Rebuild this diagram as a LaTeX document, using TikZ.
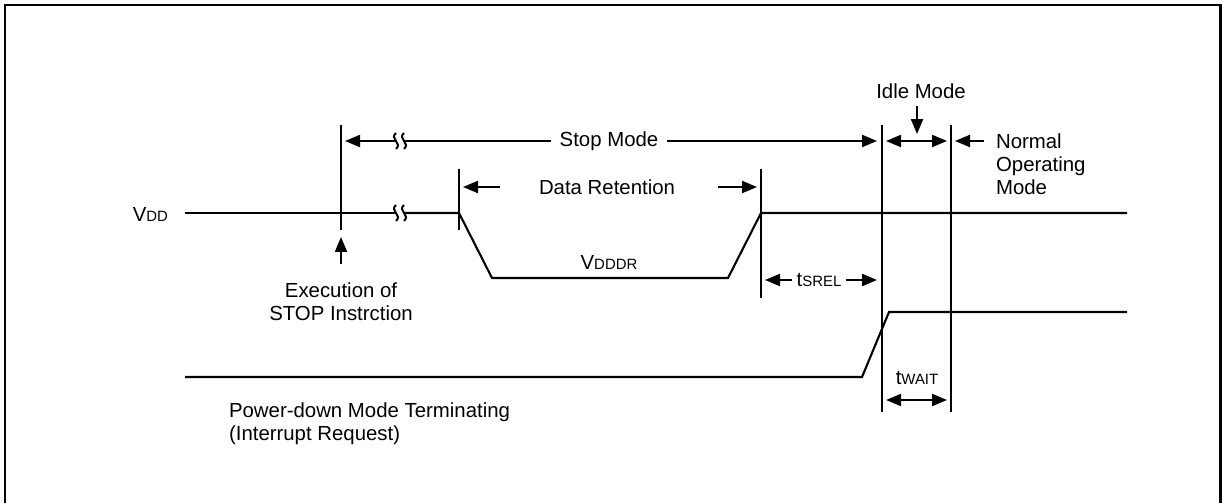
\documentclass[tikz,border=0pt]{standalone}
\usepackage{fontspec}
\setmainfont{Liberation Sans}
\usetikzlibrary{arrows.meta}
\newcommand{\lowtxt}[1]{{\fontsize{8.5}{9}\selectfont #1}}
\begin{document}
\begin{tikzpicture}
[x=0.02cm, y=-0.02cm, line width=1.2pt,
 >={Triangle[length=3mm,width=2.4mm]},
 nodes={font=\fontsize{11.6}{13}\selectfont, inner sep=0pt},
 squig/.pic={\draw[line width=1.1pt] (0,-8) .. controls (-7,-2) and (7,2) .. (0,8);}]
\useasboundingbox (0,0) rectangle (1222,503);
\draw[line width=1.7pt] (5,503) -- (5,5) -- (1220,5) -- (1220,503);
% labels
\node (vdd) [anchor=east] at (169,214) {V\lowtxt{DD}};
\node (vdddr) at (609,262) {V\lowtxt{DDDR}};
\node (exec) [align=center] at (341,302) {Execution of\\STOP Instrction};
\node (pdown) [anchor=west, align=left] at (228,424) {Power-down Mode Terminating\\(Interrupt Request)};
\node (stop) [inner xsep=4.5pt] at (609,141) {Stop Mode};
\node (ret) at (607,187) {Data Retention};
\node (srel) [inner xsep=2pt] at (819,280) {t\lowtxt{SREL}};
\node (wait) at (917,378) {t\lowtxt{WAIT}};
\node (idle) at (921,91) {Idle Mode};
\node (normal) [anchor=west, align=left] at (995,164) {Normal\\Operating\\Mode};
% arrow ends
\coordinate (stopL) at (345,141);
\coordinate (stopR) at (877,141);
\coordinate (idleL) at (886,141);
\coordinate (idleR) at (947,141);
\coordinate (idleT) at (917,106);
\coordinate (idleB) at (917,134);
\coordinate (normT) at (955,141);
\coordinate (normS) at (984,141);
\coordinate (retLS) at (500,187);
\coordinate (retLT) at (463,187);
\coordinate (retRS) at (718,187);
\coordinate (retRT) at (757,187);
\coordinate (srelL) at (765,280);
\coordinate (srelR) at (877,280);
\coordinate (waitL) at (886,400);
\coordinate (waitR) at (947,400);
\coordinate (execT) at (341,237);
\coordinate (execS) at (341,264);
% markers
\draw (341,125) -- (341,230);
\draw (459,169) -- (459,230);
\draw (761,169) -- (761,298);
\draw (882,125) -- (882,412);
\draw (951,125) -- (951,412);
% VDD
\draw (185,213) -- (396,213);
\pic at (396,213) {squig};
\pic at (404,213) {squig};
\draw (404,213) -- (459,213) -- (492,278) -- (728,278) -- (761,213) -- (1127,213);
% interrupt
\draw (185,377) -- (862,377) -- (889,312) -- (1127,312);
% arrows
\draw (stop.west) -- (404,141);
\pic at (404,141) {squig};
\pic at (396,141) {squig};
\draw[->] (396,141) -- (stopL);
\draw[->] (stop.east) -- (stopR);
\draw[<->] (idleL) -- (idleR);
\draw[->] (idleT) -- (idleB);
\draw[->] (normS) -- (normT);
\draw[->] (retLS) -- (retLT);
\draw[->] (retRS) -- (retRT);
\draw[->] (srel.west) -- (srelL);
\draw[->] (srel.east) -- (srelR);
\draw[<->] (waitL) -- (waitR);
\draw[->] (execS) -- (execT);
\end{tikzpicture}
\end{document}
